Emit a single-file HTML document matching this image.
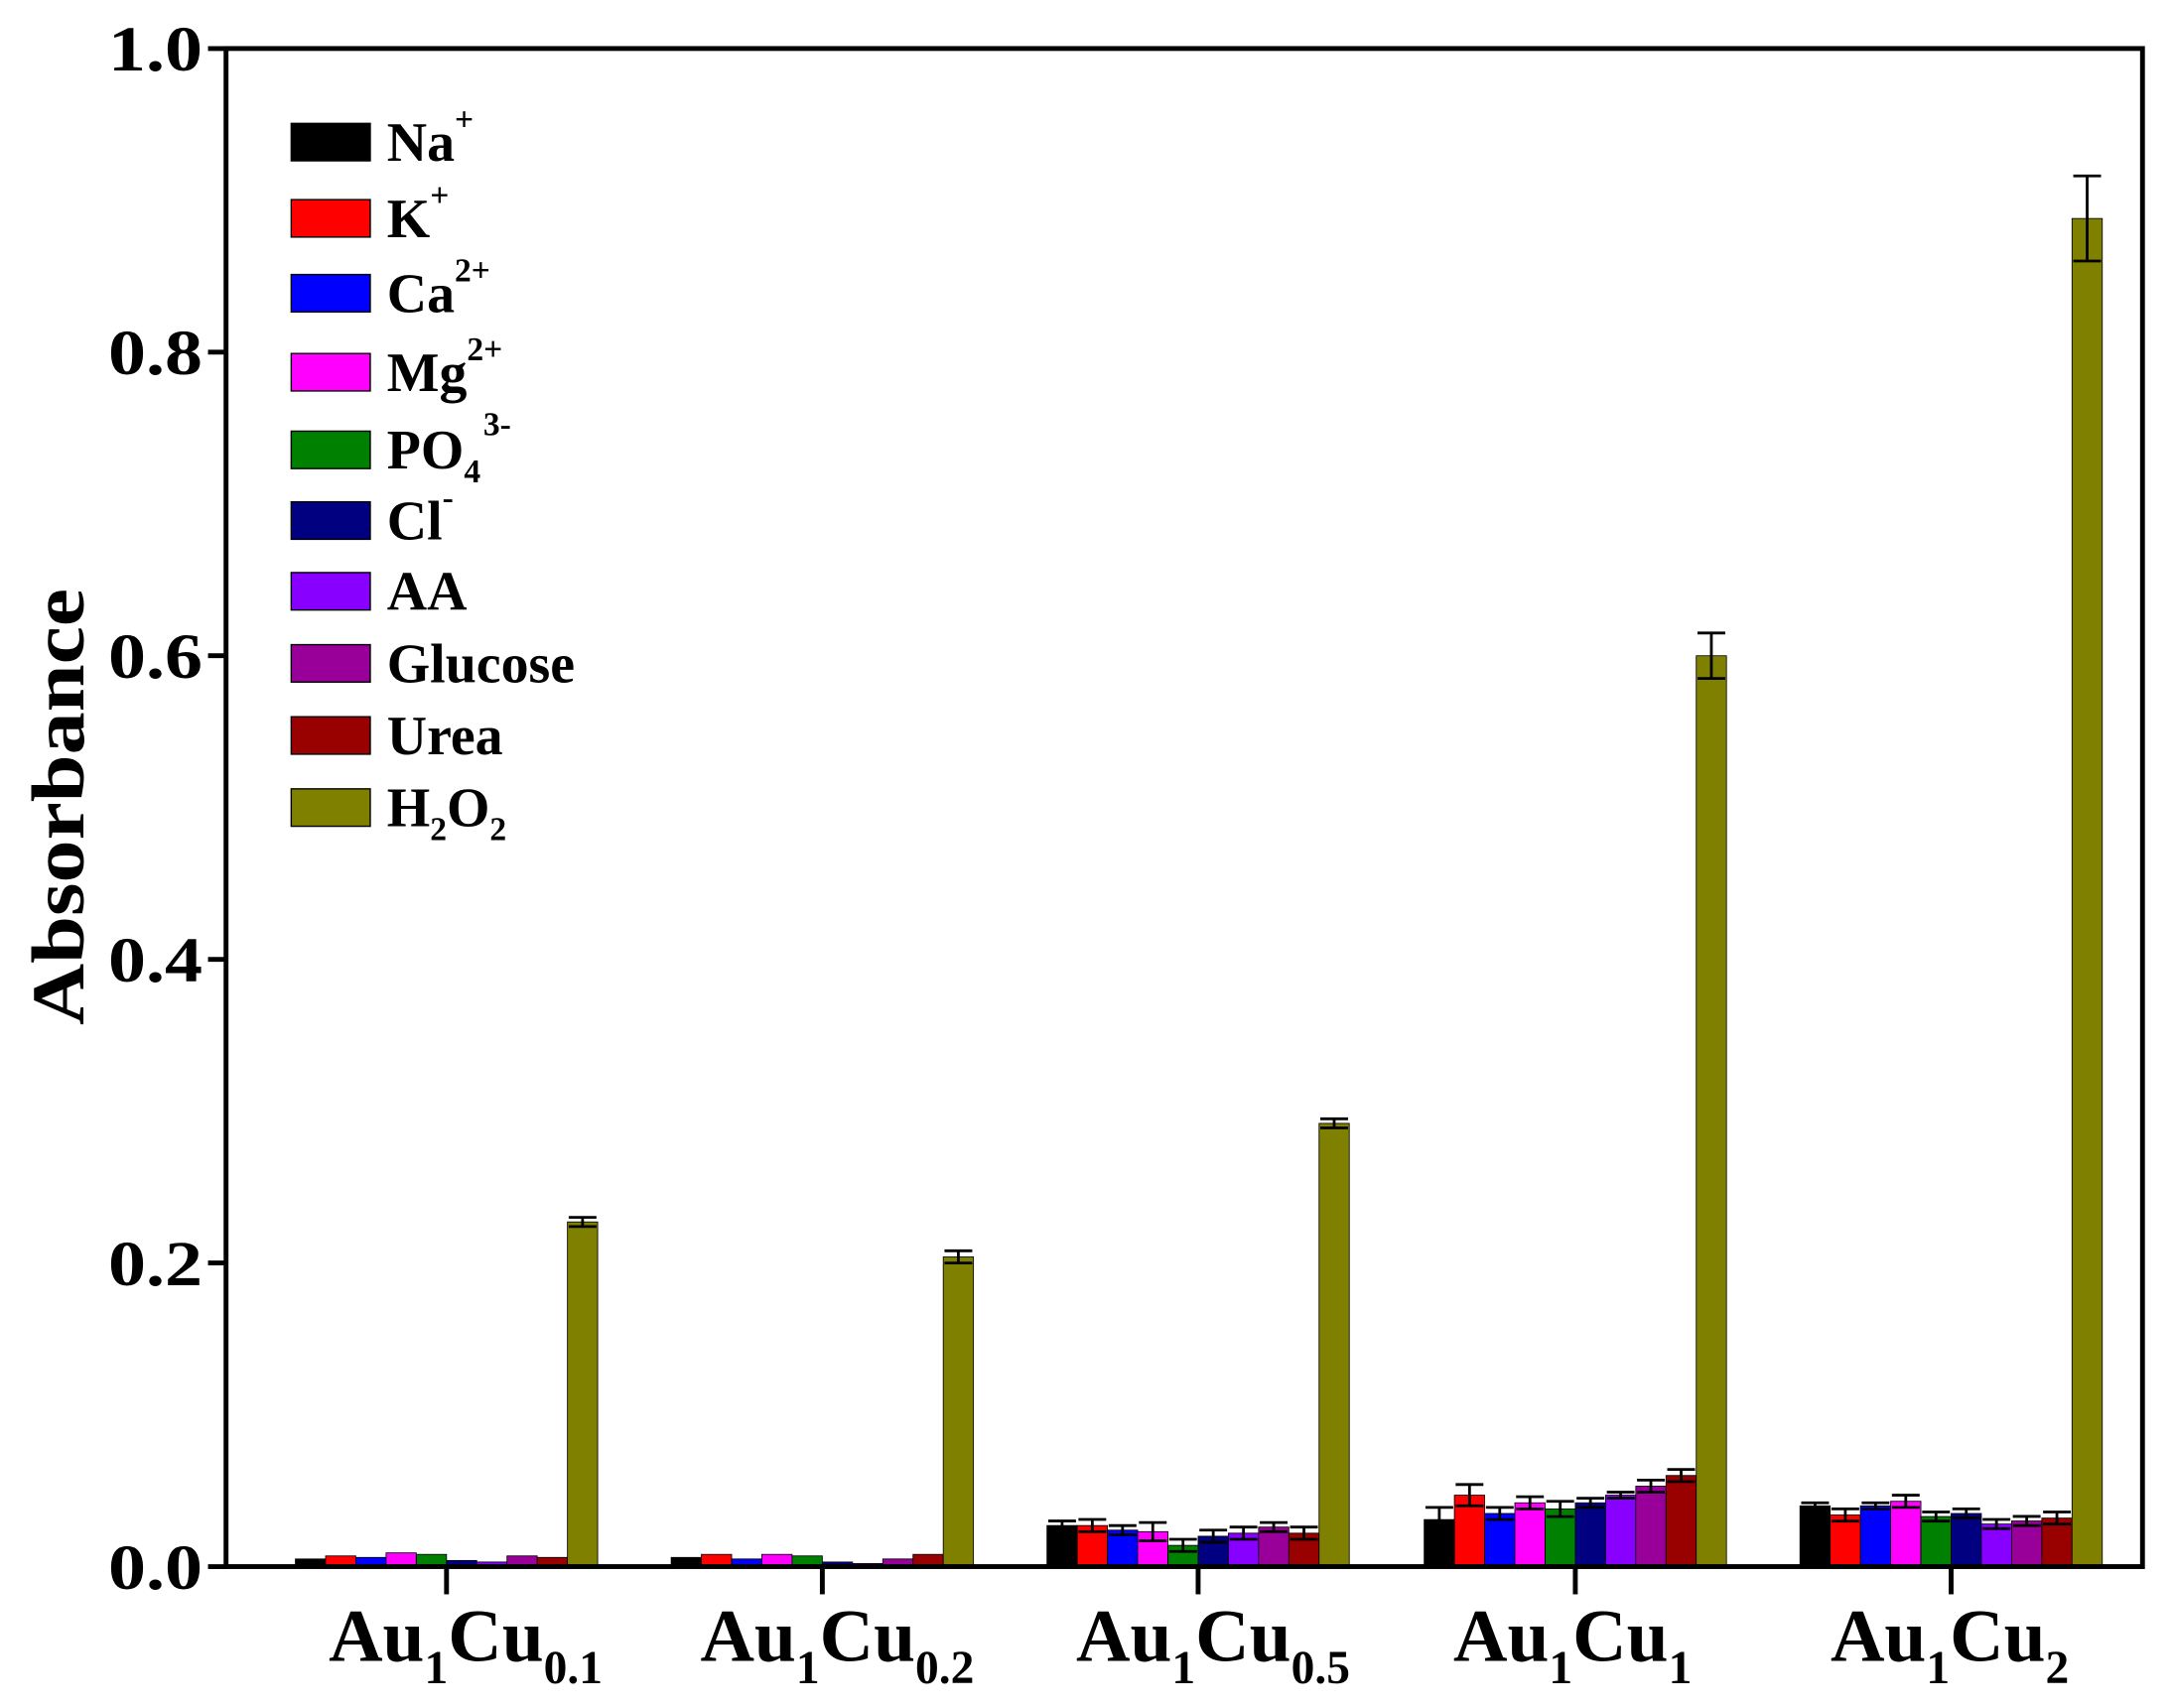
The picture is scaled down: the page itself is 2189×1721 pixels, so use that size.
<!DOCTYPE html>
<html><head><meta charset="utf-8"><style>
html,body{margin:0;padding:0;background:#fff}
svg{display:block}
text{font-family:"Liberation Serif",serif;font-weight:bold;fill:#000}
</style></head><body>
<svg width="2189" height="1721" viewBox="0 0 1567 1232" preserveAspectRatio="none" xmlns="http://www.w3.org/2000/svg">
<g stroke="#000" stroke-width="0.6">
<rect x="213" y="1124.5" width="21.8" height="5.5" fill="#000"/>
<rect x="234.8" y="1122.3" width="21.8" height="7.7" fill="#FF0000"/>
<rect x="256.6" y="1123.4" width="21.8" height="6.6" fill="#0000FF"/>
<rect x="278.4" y="1120.1" width="21.8" height="9.9" fill="#FF00FF"/>
<rect x="300.2" y="1121.2" width="21.8" height="8.8" fill="#008000"/>
<rect x="322" y="1125.6" width="21.8" height="4.4" fill="#000080"/>
<rect x="343.8" y="1126.7" width="21.8" height="3.3" fill="#8800FF"/>
<rect x="365.6" y="1122.3" width="21.8" height="7.7" fill="#990099"/>
<rect x="387.4" y="1123.4" width="21.8" height="6.6" fill="#990000"/>
<rect x="409.2" y="881.4" width="21.8" height="248.6" fill="#808000"/>
<rect x="484" y="1123.4" width="21.8" height="6.6" fill="#000"/>
<rect x="505.8" y="1121.2" width="21.8" height="8.8" fill="#FF0000"/>
<rect x="527.6" y="1124.5" width="21.8" height="5.5" fill="#0000FF"/>
<rect x="549.4" y="1121.2" width="21.8" height="8.8" fill="#FF00FF"/>
<rect x="571.2" y="1122.3" width="21.8" height="7.7" fill="#008000"/>
<rect x="593" y="1126.7" width="21.8" height="3.3" fill="#000080"/>
<rect x="614.8" y="1127.8" width="21.8" height="2.2" fill="#8800FF"/>
<rect x="636.6" y="1124.5" width="21.8" height="5.5" fill="#990099"/>
<rect x="658.4" y="1121.2" width="21.8" height="8.8" fill="#990000"/>
<rect x="680.2" y="906.6" width="21.8" height="223.4" fill="#808000"/>
<rect x="755" y="1100.4" width="21.8" height="29.6" fill="#000"/>
<rect x="776.8" y="1100.4" width="21.8" height="29.6" fill="#FF0000"/>
<rect x="798.6" y="1103.7" width="21.8" height="26.3" fill="#0000FF"/>
<rect x="820.4" y="1104.8" width="21.8" height="25.2" fill="#FF00FF"/>
<rect x="842.2" y="1114.7" width="21.8" height="15.3" fill="#008000"/>
<rect x="864" y="1108.1" width="21.8" height="21.9" fill="#000080"/>
<rect x="885.8" y="1105.9" width="21.8" height="24.1" fill="#8800FF"/>
<rect x="907.6" y="1101.5" width="21.8" height="28.5" fill="#990099"/>
<rect x="929.4" y="1105.9" width="21.8" height="24.1" fill="#990000"/>
<rect x="951.2" y="810.3" width="21.8" height="319.7" fill="#808000"/>
<rect x="1027" y="1096.1" width="21.8" height="33.9" fill="#000"/>
<rect x="1048.8" y="1078.5" width="21.8" height="51.5" fill="#FF0000"/>
<rect x="1070.6" y="1091.7" width="21.8" height="38.3" fill="#0000FF"/>
<rect x="1092.4" y="1084" width="21.8" height="46" fill="#FF00FF"/>
<rect x="1114.2" y="1088.4" width="21.8" height="41.6" fill="#008000"/>
<rect x="1136" y="1084" width="21.8" height="46" fill="#000080"/>
<rect x="1157.8" y="1078.5" width="21.8" height="51.5" fill="#8800FF"/>
<rect x="1179.6" y="1072" width="21.8" height="58" fill="#990099"/>
<rect x="1201.4" y="1064.3" width="21.8" height="65.7" fill="#990000"/>
<rect x="1223.2" y="473" width="21.8" height="657" fill="#808000"/>
<rect x="1298" y="1086.2" width="21.8" height="43.8" fill="#000"/>
<rect x="1319.8" y="1092.8" width="21.8" height="37.2" fill="#FF0000"/>
<rect x="1341.6" y="1086.2" width="21.8" height="43.8" fill="#0000FF"/>
<rect x="1363.4" y="1082.9" width="21.8" height="47.1" fill="#FF00FF"/>
<rect x="1385.2" y="1093.9" width="21.8" height="36.1" fill="#008000"/>
<rect x="1407" y="1091.7" width="21.8" height="38.3" fill="#000080"/>
<rect x="1428.8" y="1099.3" width="21.8" height="30.7" fill="#8800FF"/>
<rect x="1450.6" y="1097.1" width="21.8" height="32.9" fill="#990099"/>
<rect x="1472.4" y="1095" width="21.8" height="35" fill="#990000"/>
<rect x="1494.2" y="157.6" width="21.8" height="972.4" fill="#808000"/>
</g>
<path fill="none" stroke="#000" stroke-width="2" d="
M410.1 878.1h20M420.1 878.1V884.7M410.1 884.7h20
M681.1 902.2h20M691.1 902.2V911M681.1 911h20
M755.9 1097.1h20M765.9 1097.1V1103.7M755.9 1103.7h20
M777.7 1096h20M787.7 1096V1104.8M777.7 1104.8h20
M799.5 1100.4h20M809.5 1100.4V1107M799.5 1107h20
M821.3 1098.2h20M831.3 1098.2V1111.4M821.3 1111.4h20
M843.1 1110.3h20M853.1 1110.3V1119.1M843.1 1119.1h20
M864.9 1103.7h20M874.9 1103.7V1112.5M864.9 1112.5h20
M886.7 1101.5h20M896.7 1101.5V1110.3M886.7 1110.3h20
M908.5 1098.2h20M918.5 1098.2V1104.8M908.5 1104.8h20
M930.3 1101.5h20M940.3 1101.5V1110.3M930.3 1110.3h20
M952.1 807h20M962.1 807V813.6M952.1 813.6h20
M1027.9 1087.3h20M1037.9 1087.3V1104.9M1027.9 1104.9h20
M1049.7 1070.8h20M1059.7 1070.8V1086.2M1049.7 1086.2h20
M1071.5 1087.3h20M1081.5 1087.3V1096.1M1071.5 1096.1h20
M1093.3 1079.6h20M1103.3 1079.6V1088.4M1093.3 1088.4h20
M1115.1 1082.9h20M1125.1 1082.9V1093.9M1115.1 1093.9h20
M1136.9 1080.7h20M1146.9 1080.7V1087.3M1136.9 1087.3h20
M1158.7 1076.3h20M1168.7 1076.3V1080.7M1158.7 1080.7h20
M1180.5 1067.6h20M1190.5 1067.6V1076.4M1180.5 1076.4h20
M1202.3 1059.9h20M1212.3 1059.9V1068.7M1202.3 1068.7h20
M1224.1 456.6h20M1234.1 456.6V489.4M1224.1 489.4h20
M1298.9 1084h20M1308.9 1084V1088.4M1298.9 1088.4h20
M1320.7 1088.4h20M1330.7 1088.4V1097.2M1320.7 1097.2h20
M1342.5 1084h20M1352.5 1084V1088.4M1342.5 1088.4h20
M1364.3 1078.5h20M1374.3 1078.5V1087.3M1364.3 1087.3h20
M1386.1 1090.6h20M1396.1 1090.6V1097.2M1386.1 1097.2h20
M1407.9 1088.4h20M1417.9 1088.4V1095M1407.9 1095h20
M1429.7 1096h20M1439.7 1096V1102.6M1429.7 1102.6h20
M1451.5 1093.8h20M1461.5 1093.8V1100.4M1451.5 1100.4h20
M1473.3 1090.6h20M1483.3 1090.6V1099.4M1473.3 1099.4h20
M1495.1 126.9h20M1505.1 126.9V188.3M1495.1 188.3h20"/>
<rect x="163" y="35" width="1382" height="1095" fill="none" stroke="#000" stroke-width="3.5"/>
<g stroke="#000" stroke-width="3.5">
<line x1="150" y1="35" x2="163" y2="35"/><line x1="150" y1="254" x2="163" y2="254"/>
<line x1="150" y1="473" x2="163" y2="473"/><line x1="150" y1="692" x2="163" y2="692"/>
<line x1="150" y1="911" x2="163" y2="911"/><line x1="150" y1="1130" x2="163" y2="1130"/>
<line x1="322" y1="1130" x2="322" y2="1150"/><line x1="593" y1="1130" x2="593" y2="1150"/>
<line x1="864" y1="1130" x2="864" y2="1150"/><line x1="1136" y1="1130" x2="1136" y2="1150"/>
<line x1="1407" y1="1130" x2="1407" y2="1150"/>
</g>
<g font-size="46" text-anchor="end">
<text x="146" y="51" textLength="68" lengthAdjust="spacingAndGlyphs">1.0</text>
<text x="146" y="270" textLength="68" lengthAdjust="spacingAndGlyphs">0.8</text>
<text x="146" y="489" textLength="68" lengthAdjust="spacingAndGlyphs">0.6</text>
<text x="146" y="708" textLength="68" lengthAdjust="spacingAndGlyphs">0.4</text>
<text x="146" y="927" textLength="68" lengthAdjust="spacingAndGlyphs">0.2</text>
<text x="146" y="1146" textLength="68" lengthAdjust="spacingAndGlyphs">0.0</text>
</g>
<text transform="translate(60,582) rotate(-90)" font-size="54" text-anchor="middle" textLength="315" lengthAdjust="spacingAndGlyphs">Absorbance</text>
<g font-size="54">
<text x="237" y="1198">Au<tspan font-size="34" dy="16">1</tspan><tspan dy="-16">Cu</tspan><tspan font-size="34" dy="16">0.1</tspan></text>
<text x="505" y="1198">Au<tspan font-size="34" dy="16">1</tspan><tspan dy="-16">Cu</tspan><tspan font-size="34" dy="16">0.2</tspan></text>
<text x="776" y="1198">Au<tspan font-size="34" dy="16">1</tspan><tspan dy="-16">Cu</tspan><tspan font-size="34" dy="16">0.5</tspan></text>
<text x="1048" y="1198">Au<tspan font-size="34" dy="16">1</tspan><tspan dy="-16">Cu</tspan><tspan font-size="34" dy="16">1</tspan></text>
<text x="1320" y="1198">Au<tspan font-size="34" dy="16">1</tspan><tspan dy="-16">Cu</tspan><tspan font-size="34" dy="16">2</tspan></text>
</g>
<g stroke="#000" stroke-width="1">
<rect x="210" y="89" width="57" height="27" fill="#000"/>
<rect x="210" y="144" width="57" height="27" fill="#FF0000"/>
<rect x="210" y="198" width="57" height="27" fill="#0000FF"/>
<rect x="210" y="255" width="57" height="27" fill="#FF00FF"/>
<rect x="210" y="311" width="57" height="27" fill="#008000"/>
<rect x="210" y="362" width="57" height="27" fill="#000080"/>
<rect x="210" y="413" width="57" height="27" fill="#8800FF"/>
<rect x="210" y="465" width="57" height="27" fill="#990099"/>
<rect x="210" y="517" width="57" height="27" fill="#990000"/>
<rect x="210" y="569" width="57" height="27" fill="#808000"/>
</g>
<g font-size="40">
<text x="279" y="116">Na<tspan font-size="24" dy="-22">+</tspan></text>
<text x="279" y="171">K<tspan font-size="24" dy="-22">+</tspan></text>
<text x="279" y="225">Ca<tspan font-size="24" dy="-22">2+</tspan></text>
<text x="279" y="282">Mg<tspan font-size="24" dy="-22">2+</tspan></text>
<text x="279" y="338">PO<tspan font-size="24" dy="10">4</tspan><tspan font-size="24" dy="-34" dx="2">3-</tspan></text>
<text x="279" y="389">Cl<tspan font-size="24" dy="-22">-</tspan></text>
<text x="279" y="440">AA</text>
<text x="279" y="492">Glucose</text>
<text x="279" y="544">Urea</text>
<text x="279" y="596">H<tspan font-size="24" dy="10">2</tspan><tspan dy="-10">O</tspan><tspan font-size="24" dy="10">2</tspan></text>
</g>
</svg>
</body></html>
